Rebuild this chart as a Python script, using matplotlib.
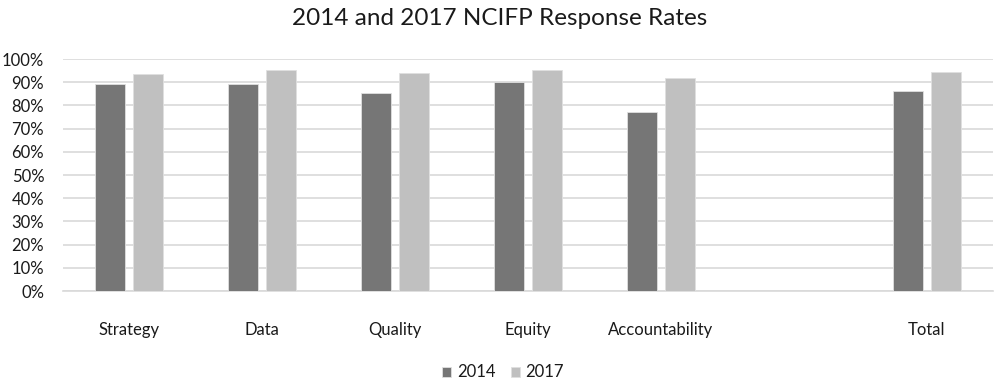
import matplotlib.pyplot as plt
import numpy as np
from matplotlib.ticker import PercentFormatter

# Response rates (blank slot before Total)
categories = ["Strategy", "Data", "Quality", "Equity", "Accountability", "", "Total"]
rates_2014 = [89.4, 89.4, 85.5, 90.0, 77.3, np.nan, 86.3]
rates_2017 = [93.5, 95.4, 93.8, 95.4, 91.9, np.nan, 94.4]

plt.rcParams['font.family'] = ['Lato', 'DejaVu Sans']

fig = plt.figure(figsize=(10, 3.86), dpi=100)
ax = fig.add_axes([0.063, 0.2461, 0.93, 0.6010])

x = np.arange(len(categories))
width = 0.226
off = 0.143
ax.bar(x - off, rates_2014, width, color='#767676', edgecolor='#e0e0e0', linewidth=0.6, label='2014', zorder=3)
ax.bar(x + off, rates_2017, width, color='#c0c0c0', edgecolor='#e0e0e0', linewidth=0.6, label='2017', zorder=3)

ax.set_xlim(-0.5, len(categories) - 0.5)
ax.set_ylim(0, 100)
ax.set_yticks(np.arange(0, 101, 10))
ax.yaxis.set_major_formatter(PercentFormatter(decimals=0))
ax.set_xticks(x)
ax.set_xticklabels(categories)

ax.grid(axis='y', color='#d9d9d9', linewidth=1.2, zorder=0)
for s in ['top', 'right', 'left']:
    ax.spines[s].set_visible(False)
ax.spines['bottom'].set_color('#d9d9d9')
ax.spines['bottom'].set_linewidth(1.2)
ax.tick_params(axis='both', length=0, labelsize=12, labelcolor='#1a1a1a')
ax.tick_params(axis='x', pad=22)
ax.tick_params(axis='y', pad=13.5)

fig.text(0.5, 0.953, "2014 and 2017 NCIFP Response Rates", ha='center', va='center',
         fontsize=17.5, color='#1a1a1a')

fig.legend(loc='center', bbox_to_anchor=(0.503, 0.035), ncol=2, frameon=False,
           fontsize=12, handlelength=0.55, handleheight=0.55, handletextpad=0.35,
           columnspacing=0.9, labelcolor='#1a1a1a')

fig.savefig('out.png', dpi=100)
